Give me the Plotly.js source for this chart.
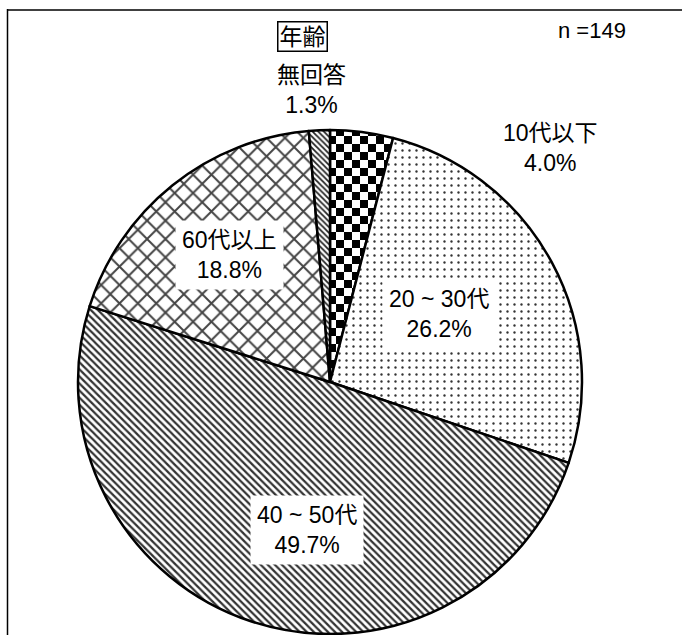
<!DOCTYPE html>
<html>
<head>
<meta charset="utf-8">
<script src="https://cdn.plot.ly/plotly-3.0.1.min.js"></script>
<style>
html,body{margin:0;padding:0;background:#fff;}
#chart{width:682px;height:635px;}
</style>
</head>
<body>
<div id="chart"></div>
<script>
// Data (n = 149), clockwise from 12 o'clock
var categories = ["10代以下", "20～30代", "40～50代", "60代以上", "無回答"];
var labelText  = ["10代以下", "20 ~ 30代", "40 ~ 50代", "60代以上", "無回答"];
var counts     = [6, 39, 74, 28, 2];
var percents   = ["4.0%", "26.2%", "49.7%", "18.8%", "1.3%"];
var chartTitle = "年齢";
var sampleNote = "n =149";

var FONT = "Liberation Sans, Arial, Noto Sans CJK JP, sans-serif";

var patterns = [
  {shape: "+", size: 16, solidity: 0.5, fgcolor: "#000", bgcolor: "#fff"},
  {shape: ".", size: 7, solidity: 0.09, fgcolor: "#333", bgcolor: "#fff"},
  {shape: "\\", size: 5, solidity: 0.45, fgcolor: "#333", bgcolor: "#fff"},
  {shape: "x", size: 13, solidity: 0.28, fgcolor: "#444", bgcolor: "#fff"},
  {shape: "\\", size: 4, solidity: 0.45, fgcolor: "#222", bgcolor: "#fff"}
];

var data = [{
  type: "pie",
  labels: categories,
  values: counts,
  sort: false,
  direction: "clockwise",
  rotation: 0,
  textinfo: "none",
  hoverinfo: "none",
  showlegend: false,
  marker: {
    colors: ["#fff","#fff","#fff","#fff","#fff"],
    pattern: {
      shape: patterns.map(function(p){return p.shape;}),
      size: patterns.map(function(p){return p.size;}),
      solidity: patterns.map(function(p){return p.solidity;}),
      fgcolor: patterns.map(function(p){return p.fgcolor;}),
      bgcolor: patterns.map(function(p){return p.bgcolor;}),
      fillmode: "replace"
    },
    line: {color: "#000", width: 2.5}
  },
  domain: {x: [78/682, 582/682], y: [1/635, 505/635]}
}];

// label placement (pixel centres of label boxes)
var labelPos = [
  {x: 550, y: 148, bg: false},
  {x: 439, y: 314, bg: true},
  {x: 307, y: 530, bg: true},
  {x: 230, y: 255, bg: true},
  {x: 311, y: 90, bg: false}
];

var annotations = categories.map(function(c, i){
  var p = labelPos[i];
  return {
    xref: "paper", yref: "paper",
    x: p.x/682, y: 1 - p.y/635,
    xanchor: "center", yanchor: "middle",
    text: labelText[i] + "<br>" + percents[i],
    showarrow: false,
    align: "center",
    font: {family: FONT, size: 23, color: "#000"},
    bgcolor: p.bg ? "#fff" : "rgba(0,0,0,0)",
    borderpad: 6
  };
});
annotations.push({
  xref: "paper", yref: "paper", x: 302/682, y: 1 - 37/635,
  xanchor: "center", yanchor: "middle", showarrow: false,
  text: chartTitle, font: {family: FONT, size: 23, color: "#000"},
  bordercolor: "#000", borderwidth: 1.5, borderpad: 1, bgcolor: "#fff"
});
annotations.push({
  xref: "paper", yref: "paper", x: 592/682, y: 1 - 30/635,
  xanchor: "center", yanchor: "middle", showarrow: false,
  text: sampleNote, font: {family: FONT, size: 22, color: "#000"}
});

var layout = {
  width: 682, height: 635,
  margin: {l: 0, r: 0, t: 0, b: 0},
  paper_bgcolor: "#fff",
  plot_bgcolor: "#fff",
  annotations: annotations,
  shapes: [
    {type: "line", xref: "paper", yref: "paper", x0: 7/682, x1: 1, y0: 1 - 10/635, y1: 1 - 10/635,
     line: {color: "#404040", width: 2}},
    {type: "line", xref: "paper", yref: "paper", x0: 7.5/682, x1: 7.5/682, y0: 0, y1: 1 - 9/635,
     line: {color: "#000", width: 1.5}}
  ]
};

Plotly.newPlot("chart", data, layout, {staticPlot: true, displayModeBar: false}).then(function(gd){
  // turn the first slice's grid pattern into a checkerboard
  try {
    var path = gd.querySelector(".slice path.surface");
    var fill = path.style.fill || path.getAttribute("fill") || "";
    var m = /#([^"')]+)/.exec(fill);
    if (!m) return;
    var pat = document.getElementById(m[1]);
    if (!pat) return;
    var NS = "http://www.w3.org/2000/svg";
    var s = 8;
    while (pat.firstChild) pat.removeChild(pat.firstChild);
    pat.setAttribute("width", 2*s);
    pat.setAttribute("height", 2*s);
    pat.setAttribute("patternUnits", "userSpaceOnUse");
    var rects = [[0,0,2*s,2*s,"#fff"],[0,0,s,s,"#000"],[s,s,s,s,"#000"]];
    rects.forEach(function(r){
      var el = document.createElementNS(NS, "rect");
      el.setAttribute("x", r[0]); el.setAttribute("y", r[1]);
      el.setAttribute("width", r[2]); el.setAttribute("height", r[3]);
      el.setAttribute("fill", r[4]);
      pat.appendChild(el);
    });
  } catch(e) {}
});
</script>
</body>
</html>
